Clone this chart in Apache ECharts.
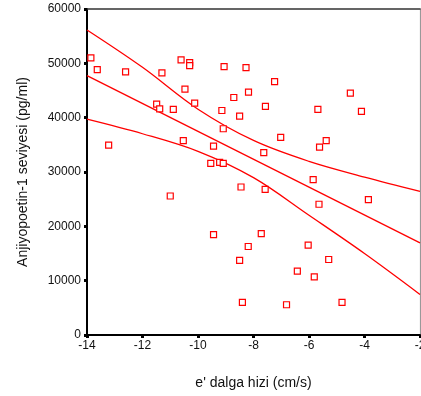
<!DOCTYPE html>
<html>
<head>
<meta charset="utf-8">
<script src="https://cdn.jsdelivr.net/npm/echarts@6/dist/echarts.min.js"></script>
<style>
html,body{margin:0;padding:0;background:#fff;}
#c{width:421px;height:396px;}
</style>
</head>
<body>
<div id="c"></div>
<script>
// Scatter observations: e' dalga hizi (cm/s) vs Anjiyopoetin-1 (pg/ml)
var eVelocity = [-13.86,-13.63,-12.61,-13.22,-11.30,-10.61,-10.30,-10.30,-10.47,-10.12,
  -11.49,-11.38,-10.89,-10.53,-9.44,-9.54,-11.0,-9.06,-8.27,-7.24,
  -8.18,-8.71,-7.57,-9.14,-8.50,-9.09,-7.02,-7.63,-9.22,-9.09,
  -8.45,-7.58,-5.68,-4.51,-4.11,-5.38,-5.62,-5.85,-3.86,-5.64,
  -9.44,-7.72,-8.19,-6.03,-8.50,-5.29,-6.42,-5.81,-8.40,-6.81,-4.81];
var angiopoietin = [51000,48850,48430,34950,48250,50630,50140,49590,45240,42660,
  42480,41630,41510,35760,34770,31590,25580,49400,49220,46650,
  44690,43710,42060,41320,40280,37960,36360,33550,31770,31590,
  27240,26810,41510,44500,41140,35760,34580,28590,24920,24060,
  18490,18670,16290,16530,13720,13900,11750,10710,6000,5570,6000];

// Fit line and confidence band readings
var fitX = [-14, -2];
var fitY = [47750, 16950];
var bandX = [-14, -12, -10, -8, -6, -4, -2];
var upperY = [56140, 49270, 41560, 35810, 31960, 29070, 26450];
var lowerY = [39720, 37040, 33800, 28960, 22040, 15000, 7470];

// Axis ticks
var xTicks = {min: -14, max: -2, interval: 2};
var yTicks = {min: 0, max: 60000, interval: 10000};

function pairs(xs, ys){ return xs.map(function(x,i){ return [x, ys[i]]; }); }

var red = '#ff0000';
var font = 'Liberation Sans, Arial, sans-serif';
var chart = echarts.init(document.getElementById('c'), null, {renderer:'canvas'});
chart.setOption({
  animation: false,
  backgroundColor: '#ffffff',
  grid: {left: 87, right: 1, top: 9, bottom: 61, containLabel: false, outerBoundsMode: 'none'},
  xAxis: [{
    type: 'value', min: xTicks.min, max: xTicks.max, interval: xTicks.interval,
    name: "e' dalga hizi (cm/s)", nameLocation: 'middle', nameGap: 41,
    nameTextStyle: {fontFamily: font, fontSize: 14, color: '#111'},
    axisLine: {show: true, onZero: false, lineStyle: {color: '#000', width: 2}},
    axisTick: {show: true, inside: false, length: 3, lineStyle: {color: '#000', width: 3}},
    axisLabel: {fontFamily: font, fontSize: 12, color: '#111', margin: 5,
      formatter: function(v){ return String(v); }},
    splitLine: {show: false}
  },{
    type: 'value', position: 'top', min: xTicks.min, max: xTicks.max,
    axisLine: {show: true, onZero: false, lineStyle: {color: '#333', width: 1.5}},
    axisTick: {show: false}, axisLabel: {show: false}, splitLine: {show: false}
  }],
  yAxis: [{
    type: 'value', min: yTicks.min, max: yTicks.max, interval: yTicks.interval,
    name: 'Anjiyopoetin-1 seviyesi (pg/ml)', nameLocation: 'middle', nameGap: 57,
    nameTextStyle: {fontFamily: font, fontSize: 14, color: '#111'},
    axisLine: {show: true, onZero: false, lineStyle: {color: '#000', width: 2}},
    axisTick: {show: true, inside: false, length: 3, lineStyle: {color: '#000', width: 3}},
    axisLabel: {fontFamily: font, fontSize: 12, color: '#111', margin: 6,
      formatter: function(v){ return String(v); }},
    splitLine: {show: false}
  },{
    type: 'value', position: 'right', min: yTicks.min, max: yTicks.max,
    axisLine: {show: true, onZero: false, lineStyle: {color: '#999', width: 1.2}},
    axisTick: {show: false}, axisLabel: {show: false}, splitLine: {show: false}
  }],
  series: [
    {type: 'line', data: pairs(bandX, upperY), smooth: 0.35, symbol: 'none',
     lineStyle: {color: red, width: 1.3}, z: 2},
    {type: 'line', data: pairs(fitX, fitY), symbol: 'none',
     lineStyle: {color: red, width: 1.3}, z: 2},
    {type: 'line', data: pairs(bandX, lowerY), smooth: 0.35, symbol: 'none',
     lineStyle: {color: red, width: 1.3}, z: 2},
    {type: 'scatter', data: pairs(eVelocity, angiopoietin), symbol: 'rect', symbolSize: 6,
     itemStyle: {color: '#ffffff', borderColor: red, borderWidth: 1.2, opacity: 1}, z: 3}
  ]
});
</script>
</body>
</html>
